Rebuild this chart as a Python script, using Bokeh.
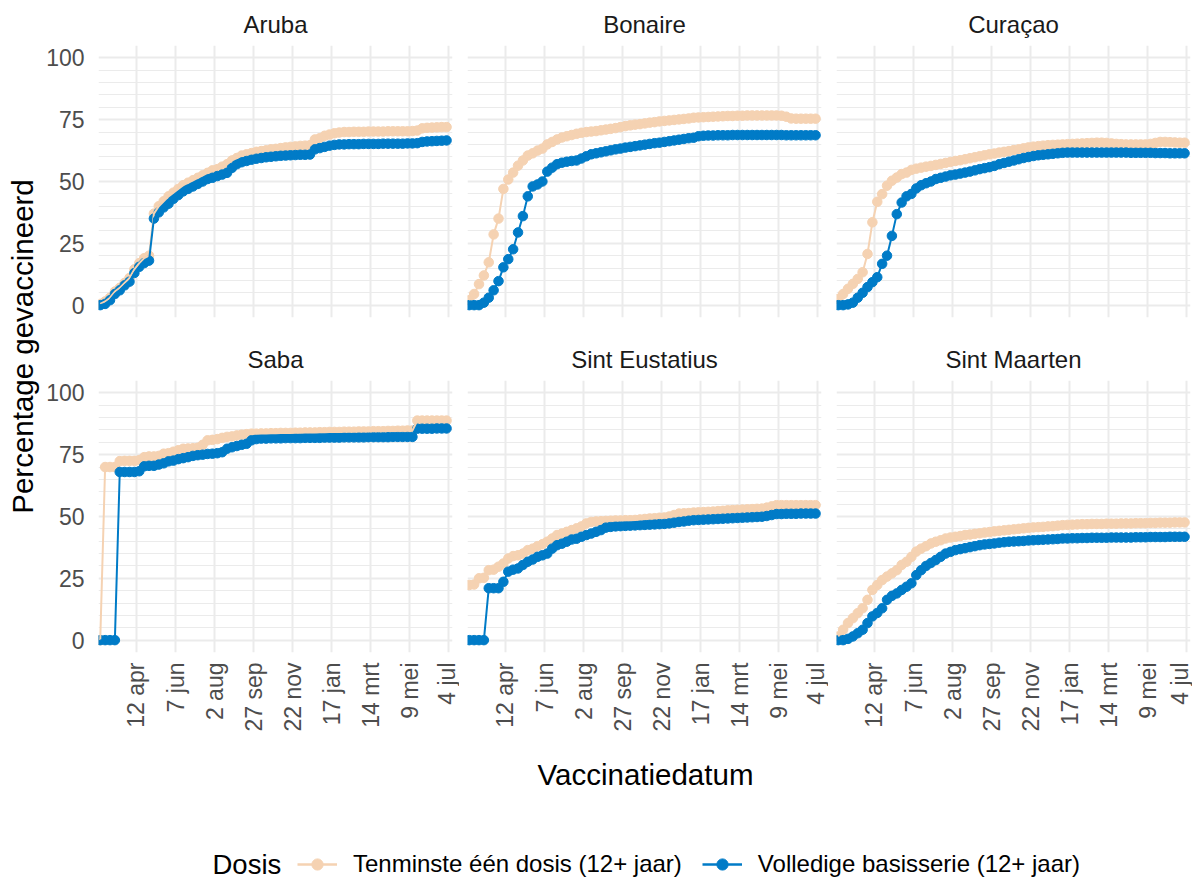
import math
import pandas as pd
from bokeh.plotting import figure
from bokeh.models import (Range1d, FixedTicker, Title, Label, Legend, LegendItem,
                          ColumnDataSource)
from bokeh.layouts import row, column
from bokeh.embed import file_html
from bokeh.resources import INLINE

# ---------------- data ----------------
dates = pd.date_range("2021-02-19", periods=72, freq="7D")

islands = ["Aruba", "Bonaire", "Curaçao", "Saba", "Sint Eustatius", "Sint Maarten"]
series_labels = ["Tenminste één dosis (12+ jaar)", "Volledige basisserie (12+ jaar)"]

aruba_first = [0.5, 1.5, 3, 5.5, 7, 9, 11, 14.5, 17, 19,
               20, 37, 40, 42, 44, 45.5, 47, 48.5, 49.5, 50.5,
               51.5, 52.5, 53.5, 54.5, 55, 56, 57, 58.5, 59.5, 60.5,
               61, 61.5, 62, 62.3, 62.6, 63, 63.2, 63.5, 63.8, 64,
               64.2, 64.4, 64.5, 64.7, 67, 67.5, 68.5, 69, 69.5, 69.8,
               70, 70, 70.1, 70.1, 70.1, 70.2, 70.2, 70.2, 70.2, 70.3,
               70.3, 70.3, 70.3, 70.3, 70.4, 70.6, 71.5, 71.7, 71.8, 71.9,
               72, 72]
aruba_full = [0, 0.5, 2, 4.5, 6, 8, 9.5, 13, 15.5, 17,
              18, 35, 37.5, 39.5, 41, 43, 44.5, 46, 47, 48,
              49, 50, 51, 51.5, 52.2, 52.8, 53.5, 55.5, 57, 57.8,
              58.3, 58.8, 59.2, 59.5, 59.8, 60, 60.2, 60.4, 60.5, 60.6,
              60.7, 60.8, 60.8, 60.9, 63, 63.5, 64, 64.5, 64.8, 65,
              65, 65.1, 65.1, 65.1, 65.2, 65.2, 65.2, 65.2, 65.3, 65.3,
              65.3, 65.3, 65.3, 65.4, 65.4, 65.5, 66, 66.2, 66.3, 66.4,
              66.5, 66.6]

bonaire_first = [2, 4.5, 8.5, 12, 17.3, 28.6, 35, 47, 50.8, 53.6,
                 56.4, 58.5, 60.5, 61.4, 62.5, 63.3, 65, 66, 67, 67.8,
                 68.3, 68.8, 69.3, 69.7, 70, 70.2, 70.4, 70.7, 71, 71.3,
                 71.6, 72, 72.4, 72.7, 73, 73.2, 73.5, 73.8, 74, 74.3,
                 74.5, 74.7, 74.9, 75.1, 75.3, 75.5, 75.8, 75.9, 76, 76.1,
                 76.2, 76.3, 76.4, 76.5, 76.5, 76.6, 76.6, 76.7, 76.7, 76.7,
                 76.7, 76.7, 76.7, 76.7, 76.6, 76.2, 75.5, 75.4, 75.4, 75.4,
                 75.4, 75.4]
bonaire_full = [0, 0, 0, 1, 3, 6, 9.7, 15.3, 18.6, 22.6,
                29.4, 36, 44, 48, 48.8, 50, 54, 55.6, 57, 57.6,
                58, 58.3, 58.5, 59.3, 60.2, 61, 61.4, 61.8, 62.2, 62.6,
                63, 63.3, 63.7, 64, 64.3, 64.6, 64.9, 65.2, 65.5, 65.7,
                66, 66.3, 66.6, 66.9, 67.2, 67.5, 67.7, 68.3, 68.5, 68.6,
                68.6, 68.7, 68.7, 68.7, 68.8, 68.8, 68.8, 68.8, 68.8, 68.8,
                68.8, 68.8, 68.8, 68.8, 68.8, 68.7, 68.7, 68.7, 68.7, 68.7,
                68.7, 68.7]

curacao_first = [2.5, 4.5, 6.6, 8.6, 10.6, 13.3, 20.7, 33.5, 41.8, 44.9,
                 48.3, 50.3, 51.6, 53, 53.6, 54.7, 55.2, 55.6, 56, 56.3,
                 56.7, 57.1, 57.5, 57.9, 58.3, 58.6, 59, 59.4, 59.8, 60.2,
                 60.6, 61, 61.3, 61.7, 62, 62.3, 62.7, 63, 63.4, 63.8,
                 64.1, 64.3, 64.5, 64.7, 64.8, 64.9, 65, 65.1, 65.2, 65.3,
                 65.4, 65.5, 65.6, 65.7, 65.7, 65.6, 65.4, 65.2, 65.1, 65,
                 65, 65, 65, 65, 65.2, 65.6, 66, 66, 65.9, 65.8,
                 65.7, 65.7]
curacao_full = [0, 0, 0.3, 1, 3, 5, 7.3, 9.3, 11.3, 16.7,
                20, 28, 36.8, 41.5, 44, 45, 47.2, 48.5, 49.3, 50,
                51, 51.5, 52, 52.5, 52.8, 53.2, 53.6, 54, 54.5, 55,
                55.4, 55.8, 56.3, 57, 57.5, 58, 58.5, 59, 59.5, 59.9,
                60.3, 60.6, 60.8, 61, 61.2, 61.4, 61.6, 61.7, 61.7, 61.7,
                61.7, 61.7, 61.7, 61.7, 61.7, 61.7, 61.7, 61.7, 61.7, 61.7,
                61.6, 61.6, 61.6, 61.6, 61.6, 61.5, 61.5, 61.5, 61.4, 61.4,
                61.4, 61.4]

saba_first = [0, 70, 70, 70, 72.4, 72.5, 72.5, 72.5, 72.8, 74,
              74.3, 74.3, 74.5, 75.4, 75.6, 76.2, 76.8, 77.4, 77.5, 77.6,
              77.8, 79, 80.8, 81, 81.3, 81.8, 82.2, 82.4, 82.8, 83.1,
              83.3, 83.5, 83.5, 83.6, 83.6, 83.7, 83.7, 83.8, 83.8, 83.8,
              83.9, 83.9, 84, 84, 84, 84.1, 84.1, 84.2, 84.2, 84.2,
              84.3, 84.3, 84.3, 84.4, 84.4, 84.4, 84.5, 84.5, 84.5, 84.6,
              84.6, 84.7, 84.7, 84.8, 84.8, 88.8, 88.8, 88.8, 88.8, 88.8,
              88.8, 88.8]
saba_full = [0, 0, 0, 0, 68, 68, 68, 68, 68.3, 70.3,
             70.5, 70.5, 71, 71.5, 72.3, 72.6, 73.2, 73.6, 74, 74.5,
             74.8, 75, 75.3, 75.4, 75.6, 76, 77.4, 78, 78.5, 79,
             79.4, 80.8, 81.3, 81.5, 81.5, 81.6, 81.6, 81.6, 81.7, 81.7,
             81.7, 81.7, 81.8, 81.8, 81.8, 81.8, 81.9, 81.9, 81.9, 81.9,
             82, 82, 82, 82, 82, 82.1, 82.1, 82.1, 82.1, 82.1,
             82.2, 82.2, 82.2, 82.2, 82.2, 85.5, 85.5, 85.5, 85.5, 85.6,
             85.6, 85.6]

eustatius_first = [22.3, 22.5, 25, 25.2, 28.3, 28.5, 29.7, 31, 33, 34,
                   34.3, 35, 36.4, 37, 38, 38.8, 39.8, 41.1, 42.5, 43.1,
                   43.8, 44.5, 45.2, 46, 47.2, 47.8, 48, 48.1, 48.2, 48.3,
                   48.4, 48.4, 48.5, 48.5, 48.6, 48.8, 49, 49.2, 49.3, 49.5,
                   49.6, 50, 50.6, 51.2, 51.3, 51.4, 51.6, 51.7, 51.8, 51.9,
                   52, 52.2, 52.3, 52.5, 52.6, 52.7, 52.8, 52.9, 53, 53.1,
                   53.2, 53.6, 54.1, 54.6, 54.6, 54.6, 54.6, 54.6, 54.6, 54.6,
                   54.6, 54.6]
eustatius_full = [0, 0, 0, 0, 21, 21, 21, 23.6, 27.7, 28.5,
                  29, 30.4, 31.7, 32.6, 33.7, 34.3, 35, 37, 38.4, 39,
                  39.8, 40.7, 41, 41.8, 42.5, 43.1, 43.8, 44.5, 45.5, 45.8,
                  46, 46.1, 46.2, 46.3, 46.4, 46.5, 46.6, 46.7, 46.8, 46.9,
                  47, 47.2, 47.5, 47.8, 48, 48.3, 48.5, 48.6, 48.7, 48.8,
                  48.9, 49, 49.1, 49.2, 49.3, 49.4, 49.5, 49.6, 49.7, 49.8,
                  49.9, 50.2, 50.6, 51, 51, 51.1, 51.1, 51.1, 51.2, 51.2,
                  51.2, 51.2]

maarten_first = [1.5, 4.2, 6.9, 8.9, 10.9, 12.9, 16.3, 20.3, 22.3, 24.3,
                 25.7, 27, 28.3, 30.4, 31.7, 33.7, 35.8, 37, 38, 39.1,
                 39.8, 40.4, 41.1, 41.5, 41.8, 42.1, 42.5, 42.7, 43, 43.2,
                 43.5, 43.7, 44, 44.2, 44.4, 44.6, 44.8, 45, 45.2, 45.4,
                 45.6, 45.7, 45.8, 46, 46.1, 46.3, 46.5, 46.6, 46.7, 46.8,
                 46.9, 46.9, 47, 47, 47, 47.1, 47.1, 47.1, 47.2, 47.2,
                 47.2, 47.3, 47.3, 47.3, 47.4, 47.4, 47.5, 47.5, 47.5, 47.6,
                 47.6, 47.6]
maarten_full = [0, 0, 0.5, 1.5, 2.8, 4.2, 6.9, 9.6, 11, 12.9,
                16.3, 17.9, 18.9, 20.3, 21.6, 23, 26.3, 28.3, 30, 31.2,
                32.4, 33.7, 35, 35.7, 36.4, 36.8, 37.2, 37.6, 38, 38.4,
                38.7, 38.9, 39.1, 39.4, 39.6, 39.8, 39.9, 40, 40.1, 40.3,
                40.4, 40.5, 40.6, 40.7, 40.8, 40.9, 41.1, 41.1, 41.2, 41.2,
                41.3, 41.3, 41.4, 41.4, 41.4, 41.4, 41.5, 41.5, 41.5, 41.5,
                41.5, 41.6, 41.6, 41.6, 41.7, 41.7, 41.7, 41.7, 41.8, 41.8,
                41.8, 41.8]

first_by_island = [aruba_first, bonaire_first, curacao_first, saba_first, eustatius_first, maarten_first]
full_by_island = [aruba_full, bonaire_full, curacao_full, saba_full, eustatius_full, maarten_full]

tick_dates = ["2021-04-12", "2021-06-07", "2021-08-02", "2021-09-27", "2021-11-22",
              "2022-01-17", "2022-03-14", "2022-05-09", "2022-07-04"]
tick_labels = ["12 apr", "7 jun", "2 aug", "27 sep", "22 nov", "17 jan", "14 mrt", "9 mei", "4 jul"]
y_ticks = [0, 25, 50, 75, 100]
y_minor = [v for v in range(5, 100, 5) if v % 25 != 0]

# ---------------- style ----------------
FONT = "Liberation Sans"
ORANGE = "#F5D2B2"
BLUE = "#007BC7"
GRID = "#EBEBEB"
DOT = 9.5
x_start = pd.Timestamp("2021-02-16 12:00")
x_end = pd.Timestamp("2022-07-09 12:00")
tick_ms = [float(pd.Timestamp(d).value // 10**6) for d in tick_dates]

FRAME_W, FRAME_H = 354, 272
YFIG_W = 40
borders_lr = [(58, 7), (8, 7), (8, 2)]
borders_tb = [(43, 10), (53, 86)]


def make_panel(idx):
    r, c = divmod(idx, 3)
    bl, br = borders_lr[c]
    bt, bb = borders_tb[r]
    p = figure(frame_width=FRAME_W, frame_height=FRAME_H, x_axis_type="datetime",
               x_range=Range1d(x_start, x_end), y_range=Range1d(-5, 105),
               x_axis_location="below" if r == 1 else None,
               y_axis_location="left" if c == 0 else None,
               output_backend="svg", toolbar_location=None,
               min_border_left=bl, min_border_right=br,
               min_border_top=bt, min_border_bottom=bb)
    p.outline_line_color = None
    p.background_fill_color = "white"
    p.border_fill_color = "white"
    p.title = Title(text=islands[idx], align="center", text_font=FONT,
                    text_font_size="24px", text_font_style="normal",
                    text_color="#1a1a1a", standoff=16)

    p.xgrid.ticker = FixedTicker(ticks=tick_ms)
    p.xgrid.grid_line_color = GRID
    p.xgrid.grid_line_width = 2
    p.ygrid.ticker = FixedTicker(ticks=y_ticks, minor_ticks=y_minor)
    p.ygrid.grid_line_color = GRID
    p.ygrid.grid_line_width = 2
    p.ygrid.minor_grid_line_color = GRID
    p.ygrid.minor_grid_line_width = 1.2

    if c == 0:
        ax = p.yaxis[0]
        ax.ticker = FixedTicker(ticks=y_ticks)
        ax.axis_line_color = None
        ax.major_tick_line_color = None
        ax.minor_tick_line_color = None
        ax.major_tick_out = 0
        ax.major_label_standoff = 14
        ax.major_label_text_font = FONT
        ax.major_label_text_font_size = "23px"
        ax.major_label_text_color = "#4d4d4d"
    if r == 1:
        ax = p.xaxis[0]
        ax.ticker = FixedTicker(ticks=tick_ms)
        ax.major_label_overrides = {t: lab for t, lab in zip(tick_ms, tick_labels)}
        ax.major_label_orientation = math.pi / 2
        ax.axis_line_color = None
        ax.major_tick_line_color = None
        ax.minor_tick_line_color = None
        ax.major_tick_out = 0
        ax.major_label_standoff = 10
        ax.major_label_text_font = FONT
        ax.major_label_text_font_size = "23px"
        ax.major_label_text_color = "#4d4d4d"

    src = ColumnDataSource(dict(date=dates, first=first_by_island[idx], full=full_by_island[idx]))
    p.scatter("date", "first", source=src, size=DOT, color=ORANGE)
    p.scatter("date", "full", source=src, size=DOT, color=BLUE)
    p.line("date", "first", source=src, line_width=2, color=ORANGE)
    p.line("date", "full", source=src, line_width=2, color=BLUE)
    return p


panels = [make_panel(i) for i in range(6)]
grid_h = sum(bt + FRAME_H + bb for bt, bb in borders_tb)


def blank(width, height):
    f = figure(width=width, height=height, x_range=Range1d(0, 1), y_range=Range1d(0, 1),
               x_axis_location=None, y_axis_location=None,
               output_backend="svg", toolbar_location=None, min_border=0)
    f.grid.visible = False
    f.outline_line_color = None
    f.background_fill_color = "white"
    f.border_fill_color = "white"
    return f


yfig = blank(YFIG_W, grid_h)
yfig.add_layout(Label(x=22, y=grid_h - 346, x_units="screen", y_units="screen",
                      text="Percentage gevaccineerd", angle=math.pi / 2,
                      text_align="center", text_baseline="middle",
                      text_font=FONT, text_font_size="29.5px", text_color="black"))

total_w = YFIG_W + sum(bl + FRAME_W + br for bl, br in borders_lr)
bottom_h = 880 - grid_h
bfig = blank(total_w, bottom_h)
bfig.add_layout(Label(x=645, y=bottom_h - (772 - grid_h), x_units="screen", y_units="screen",
                      text="Vaccinatiedatum", text_align="center", text_baseline="middle",
                      text_font=FONT, text_font_size="29.5px", text_color="black"))
legend_mid = bottom_h - (862 - grid_h)
bfig.add_layout(Label(x=212, y=legend_mid, x_units="screen", y_units="screen",
                      text="Dosis", text_align="left", text_baseline="middle",
                      text_font=FONT, text_font_size="27.5px", text_color="black"))

nan = [float("nan")]
l1 = bfig.line(nan, nan, line_width=2.5, color=ORANGE)
s1 = bfig.scatter(nan, nan, size=11, color=ORANGE)
l2 = bfig.line(nan, nan, line_width=2.5, color=BLUE)
s2 = bfig.scatter(nan, nan, size=11, color=BLUE)
legend = Legend(items=[LegendItem(label=series_labels[0], renderers=[l1, s1]),
                       LegendItem(label=series_labels[1], renderers=[l2, s2])],
                orientation="horizontal", location=(297, legend_mid - 14),
                glyph_width=40, glyph_height=28, label_standoff=16, spacing=20,
                padding=0, margin=0, border_line_color=None, background_fill_alpha=0,
                label_height=28,
                label_text_font=FONT, label_text_font_size="24px", label_text_color="black",
                label_text_baseline="middle")
bfig.add_layout(legend, "center")

layout = column(
    row(yfig, column(row(*panels[:3]), row(*panels[3:]))),
    bfig,
)

open("out.html", "w").write(file_html(layout, INLINE))
